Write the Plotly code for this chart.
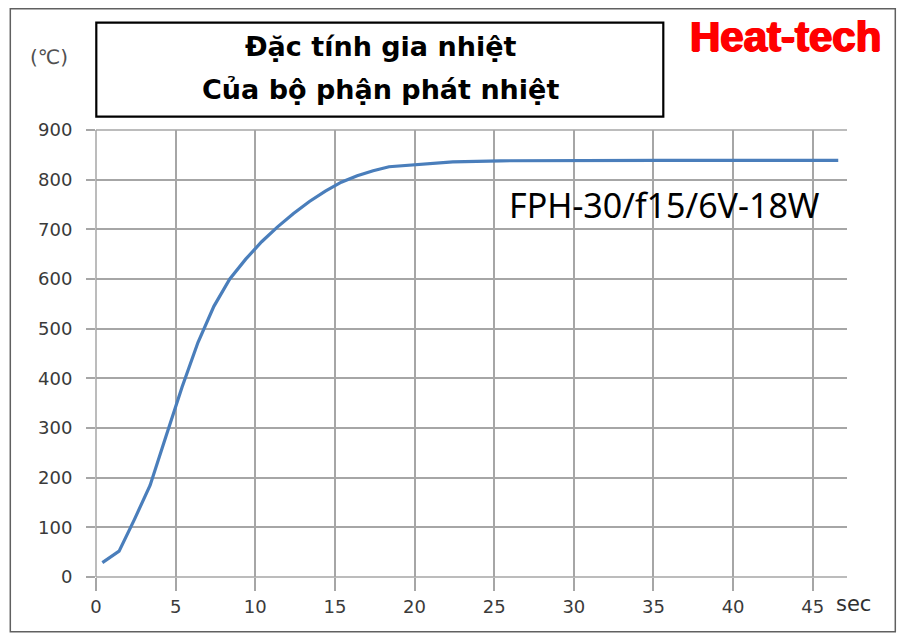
import plotly.graph_objects as go

# ---- data ----
time_s = [0.4, 1.45, 2.4, 3.4, 4.4, 5.4, 6.4, 7.4, 8.4, 9.4, 10.4, 11.4, 12.4,
          13.4, 14.4, 15.4, 16.4, 17.4, 18.4, 20.4, 22.4, 25.4, 30.4, 35.4,
          40.4, 46.6]
temp_c = [29, 52, 115, 185, 284, 382, 472, 545, 600, 640, 675, 705, 732,
          756, 777, 795, 808, 818, 826, 831, 836, 838, 839, 839, 839, 839]

x_ticks = [0, 5, 10, 15, 20, 25, 30, 35, 40, 45]
y_ticks = [0, 100, 200, 300, 400, 500, 600, 700, 800, 900]

title_line1 = "Đặc tính gia nhiệt"
title_line2 = "Của bộ phận phát nhiệt"
model_label = "FPH-30/f15/6V-18W"
brand = "Heat-tech"
y_unit = "(℃)"
x_unit = "sec"

# ---- layout geometry (pixels) ----
W, H = 907, 640
L, R, T, B = 95.7, 846.7, 130.3, 577.3


def px(xp):
    return (xp - L) / (R - L)


def py(yp):
    return (B - yp) / (B - T)


grid = "#a6a6a6"
tickfont = dict(family="DejaVu Sans", size=18, color="#3a3a3a")

fig = go.Figure()
fig.add_trace(go.Scatter(x=time_s, y=temp_c, mode="lines",
                         line=dict(color="#4a7ebb", width=3.2),
                         showlegend=False, hoverinfo="skip"))

fig.update_layout(
    width=W, height=H,
    margin=dict(l=L, r=W - R, t=T, b=H - B, pad=0),
    paper_bgcolor="white", plot_bgcolor="white",
    xaxis=dict(range=[0, 47.15], tickvals=x_ticks, showgrid=True,
               gridcolor=grid, gridwidth=1.5, zeroline=False,
               showline=False, ticks="outside", ticklen=13,
               tickcolor=grid, tickwidth=1.5, tickfont=tickfont,
               ticklabelstandoff=0),
    yaxis=dict(range=[0, 900], tickvals=y_ticks, showgrid=True,
               gridcolor=grid, gridwidth=1.5, zeroline=False,
               showline=False, ticks="outside", ticklen=9,
               tickcolor=grid, tickwidth=1.5, tickfont=tickfont,
               ticklabelstandoff=10),
)

# gridlines at the range ends, drawn as shapes so they always show
for x0, x1, y0, y1 in [(0, 1, 1, 1), (0, 1, 0, 0), (0, 0, 0, 1)]:
    fig.add_shape(type="line", xref="paper", yref="paper",
                  x0=x0, x1=x1, y0=y0, y1=y1,
                  line=dict(color=grid, width=1.5), layer="below")

# outer frame
fig.add_shape(type="rect", xref="paper", yref="paper",
              x0=px(10), x1=px(895), y0=py(9), y1=py(632),
              line=dict(color="#606060", width=1.5))
# title box
fig.add_shape(type="rect", xref="paper", yref="paper",
              x0=px(96), x1=px(663), y0=py(23), y1=py(117),
              line=dict(color="black", width=2.2), fillcolor="white")

ann = dict(xref="paper", yref="paper", showarrow=False)
fig.add_annotation(text="<b>" + title_line1 + "</b>", x=px(380), y=py(47),
                   xanchor="center", yanchor="middle",
                   font=dict(family="DejaVu Sans", size=27, color="black"), **ann)
fig.add_annotation(text="<b>" + title_line2 + "</b>", x=px(380), y=py(90),
                   xanchor="center", yanchor="middle",
                   font=dict(family="DejaVu Sans", size=27, color="black"), **ann)
fig.add_annotation(text="<b>" + brand + "</b>", x=px(883), y=py(37),
                   xanchor="right", yanchor="middle",
                   font=dict(family="Liberation Sans", size=42, color="#ff0000",
                             shadow="1px 0 0 #ff0000, -1px 0 0 #ff0000, 0 1px 0 #ff0000"),
                   **ann)
fig.add_annotation(text=y_unit, x=px(49), y=py(57),
                   xanchor="center", yanchor="middle",
                   font=dict(family="DejaVu Sans", size=20, color="#505050"), **ann)
fig.add_annotation(text=x_unit, x=px(834), y=py(604),
                   xanchor="left", yanchor="middle",
                   font=dict(family="DejaVu Sans", size=21, color="#303030"), **ann)
fig.add_annotation(text=model_label, x=px(507), y=py(205),
                   xanchor="left", yanchor="middle",
                   font=dict(family="Noto Sans", size=34, color="black"), **ann)

fig.write_html("out.html", config={"displayModeBar": False},
               post_script="document.body.style.margin='0';")
